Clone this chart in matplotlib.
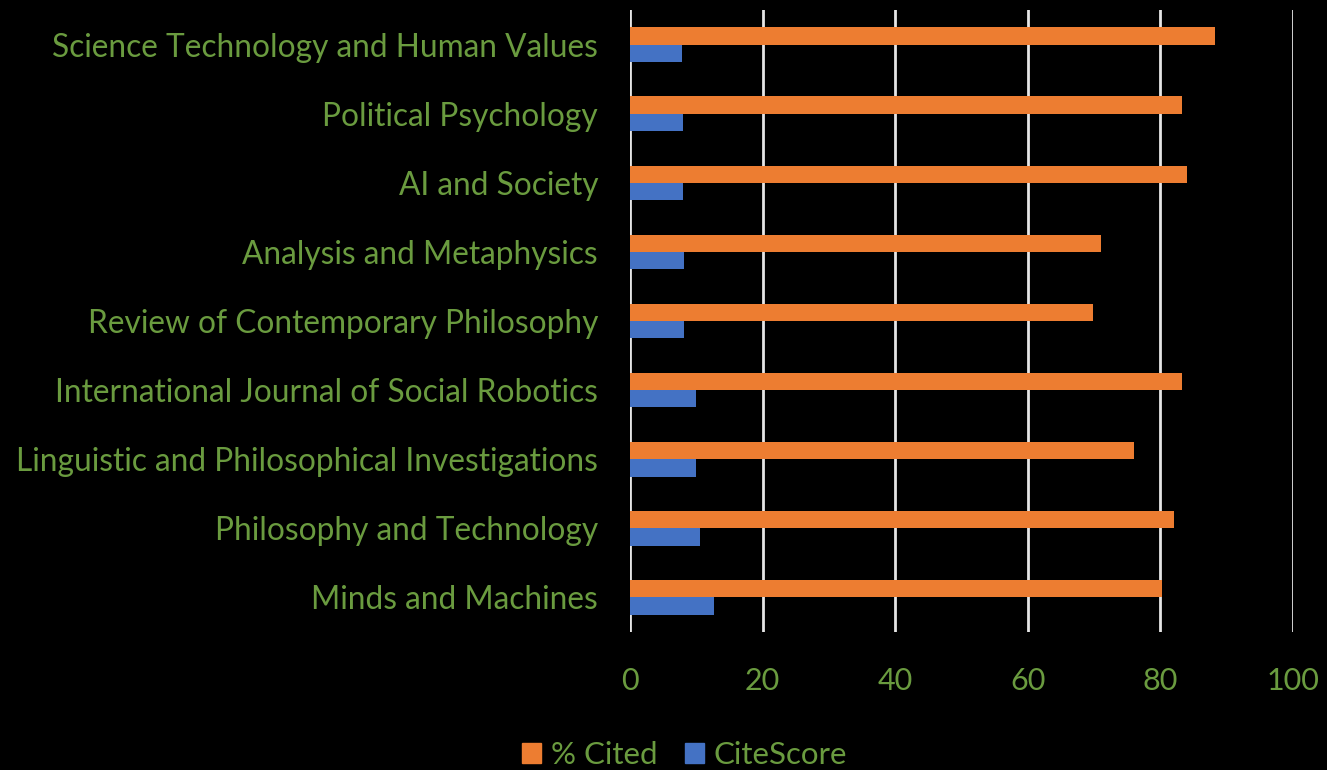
import numpy as np
import matplotlib.pyplot as plt
from matplotlib.patches import Patch

journals = [
    "Science Technology and Human Values",
    "Political Psychology",
    "AI and Society",
    "Analysis and Metaphysics",
    "Review of Contemporary Philosophy",
    "International Journal of Social Robotics",
    "Linguistic and Philosophical Investigations",
    "Philosophy and Technology",
    "Minds and Machines",
]
pct_cited = [88.2, 83.2, 84.0, 71.1, 69.9, 83.2, 76.0, 82.0, 80.2]
cite_score = [7.8, 8.0, 8.0, 8.2, 8.2, 10.0, 10.0, 10.5, 12.7]
x_ticks = [0, 20, 40, 60, 80, 100]

orange = '#ED7D31'
blue = '#4472C4'
green = '#6A9B3F'

plt.rcParams['font.family'] = ['Lato', 'DejaVu Sans']

fig = plt.figure(figsize=(13.27, 7.7), dpi=100, facecolor='black')
ax = fig.add_axes([630 / 1327, 1 - 632 / 770, 663 / 1327, 622 / 770])
ax.set_facecolor('black')

# top journal first, so reverse for barh
y = np.arange(len(journals))[::-1]
h = 0.25
ax.barh(y + h / 2, pct_cited, height=h, color=orange, zorder=3)
ax.barh(y - h / 2, cite_score, height=h, color=blue, zorder=3)

ax.set_xlim(0, 100)
ax.set_ylim(-0.5, len(journals) - 0.5)
ax.set_xticks(x_ticks)
ax.set_yticks(y)
ax.set_yticklabels(journals)
ax.xaxis.grid(True, color='#E6E6E6', linewidth=2.0, zorder=0)
ax.tick_params(axis='both', length=0, labelcolor=green)
ax.tick_params(axis='y', pad=23, labelsize=22.8)
ax.tick_params(axis='x', pad=25, labelsize=22)
for s in ax.spines.values():
    s.set_visible(False)

handles = [Patch(color=orange, label='% Cited'), Patch(color=blue, label='CiteScore')]
fig.legend(handles=handles, loc='center', bbox_to_anchor=(0.516, 0.02), ncol=2,
           frameon=False, fontsize=22.5, labelcolor=green, handlelength=0.6,
           handleheight=0.6, handletextpad=0.3, columnspacing=0.9)

fig.savefig('out.png', dpi=100, facecolor='black')
